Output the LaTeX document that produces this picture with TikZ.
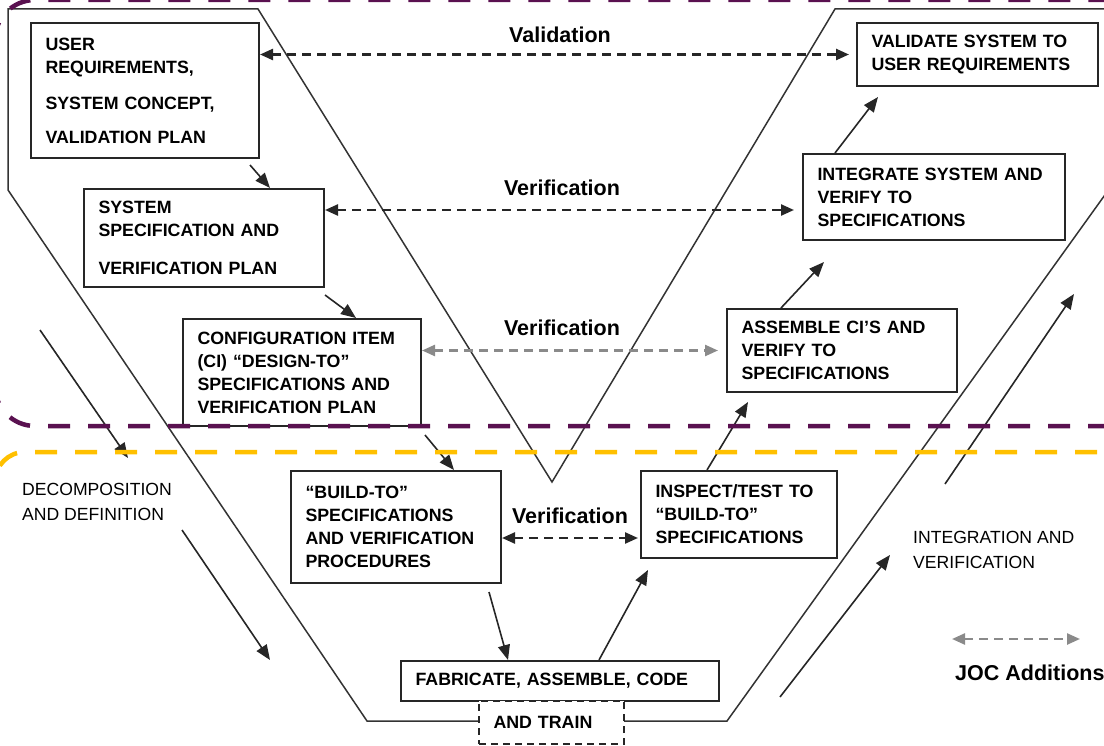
\documentclass[tikz,border=0pt]{standalone}
\usepackage{fontspec}
\setmainfont{Liberation Sans}
\usetikzlibrary{arrows.meta}
\definecolor{vpurple}{HTML}{5A1150}
\definecolor{vyellow}{HTML}{FFC000}
\definecolor{vgray}{HTML}{8A8A8A}
\begin{document}
\begin{tikzpicture}[x=1pt,y=-1pt,
  box/.style={draw=black!85,line width=2pt,fill=white,anchor=north west,inner xsep=14.5pt,inner ysep=0pt,align=left,font=\fontsize{17.8}{23}\selectfont\bfseries},
  flow/.style={-{Triangle[length=15pt,width=12pt]},line width=1.6pt,black!85},
  joc/.style={{Triangle[length=13pt,width=11pt]}-{Triangle[length=13pt,width=11pt]},line width=2.4pt,dash pattern=on 9pt off 6pt,black!85},
  lbl/.style={font=\fontsize{21.5}{26}\selectfont\bfseries},
  side/.style={anchor=west,inner sep=0pt,align=left,font=\fontsize{17.6}{24.5}\selectfont}]
\pgfmathsetmacro{\kp}{426}
\pgfmathsetmacro{\ky}{452}
\useasboundingbox (0,0) rectangle (1104,746);
\clip (0,0) rectangle (1104,746);
%vee
\draw[line width=1.5pt,black!80] (1130,9) -- (835,9) -- (552,482) -- (258,9) -- (8,9) -- (8,190) -- (367,721) -- (727,721) -- (1130,160);
%left boxes
\node[box,minimum width=228pt,minimum height=135pt,text width=199pt] (user) at (30,22) {USER\\REQUIREMENTS,\\[13pt]SYSTEM CONCEPT,\\[11pt]VALIDATION PLAN};
\node[box,minimum width=240pt,minimum height=98pt,text width=211pt] (sys) at (83,188) {SYSTEM\\SPECIFICATION AND\\[15pt]VERIFICATION PLAN};
\node[box,minimum width=238pt,minimum height=107pt,text width=209pt] (ci) at (182,318) {CONFIGURATION ITEM\\(CI) ``DESIGN-TO''\\SPECIFICATIONS AND\\VERIFICATION PLAN};
\node[box,minimum width=210pt,minimum height=112pt,text width=181pt] (build) at (290,470) {``BUILD-TO''\\SPECIFICATIONS\\AND VERIFICATION\\PROCEDURES};
%bottom
\node[box,minimum width=318pt,minimum height=40pt,text width=289pt] (fab) at (400,660) {FABRICATE, ASSEMBLE, CODE};
\node[box,dash pattern=on 7pt off 5pt,minimum width=145pt,minimum height=43pt,text width=116pt] (train) at (478,700) {AND TRAIN};
%right boxes
\node[box,minimum width=196pt,minimum height=87pt,text width=167pt] (inspect) at (640,470) {INSPECT/TEST TO\\``BUILD-TO''\\SPECIFICATIONS};
\node[box,minimum width=230pt,minimum height=83pt,text width=201pt] (assem) at (726,308) {ASSEMBLE CI'S AND\\VERIFY TO\\SPECIFICATIONS};
\node[box,minimum width=262pt,minimum height=86pt,text width=233pt] (integ) at (802,153) {INTEGRATE SYSTEM AND\\VERIFY TO\\SPECIFICATIONS};
\node[box,minimum width=241pt,minimum height=63pt,text width=212pt] (valid) at (856,22) {VALIDATE SYSTEM TO\\USER REQUIREMENTS};
%flow arrows
\draw[flow] ([xshift=-10pt,yshift=-6pt]user.south east) -- ([xshift=-55pt]sys.north east);
\draw[flow] ([yshift=-7pt]sys.south east) -- ([xshift=-66pt]ci.north east);
\draw[flow] ([xshift=3pt,yshift=-8pt]ci.south east) -- ([xshift=-48pt]build.north east);
\draw[flow] ([xshift=-13pt,yshift=-8pt]build.south east) -- ([xshift=108pt]fab.north west);
\draw[flow] ([xshift=39pt]fab.north) -- ([xshift=8pt,yshift=-11pt]inspect.south west);
\draw[flow] ([xshift=67pt]inspect.north west) -- ([xshift=22pt,yshift=-9pt]assem.south west);
\draw[flow] ([xshift=55pt]assem.north west) -- ([xshift=22pt,yshift=-21pt]integ.south west);
\draw[flow] ([xshift=33pt]integ.north west) -- ([xshift=22pt,yshift=-10pt]valid.south west);
%joc arrows
\draw[joc,shorten >=7pt] (user.east |- valid.west) -- (valid.west);
\draw[joc,shorten >=8pt] (sys.east |- 0,210) -- (integ.west |- 0,210);
\draw[joc,vgray,shorten >=8pt] (ci.east |- assem.west) -- (assem.west);
\draw[joc,shorten >=2pt] (build.east |- 0,538) -- (inspect.west |- 0,538);
\node[lbl] (valtxt) at (560,35) {Validation};
\node[lbl] (ver1) at (562,188) {Verification};
\node[lbl] (ver2) at (562,328) {Verification};
\node[lbl] (ver3) at (570,516) {Verification};
%side arrows
\node[side] (decomp) at (22,502) {DECOMPOSITION\\AND DEFINITION};
\node[side] (integr) at (913,550) {INTEGRATION AND\\VERIFICATION};
\coordinate (decA) at (40,330);
\coordinate (decB) at (128,458);
\coordinate (decC) at (182,530);
\coordinate (decD) at (270,660);
\coordinate (intA) at (780,697);
\coordinate (intB) at (890,555);
\coordinate (intC) at (945,484);
\coordinate (intD) at (1074,294);
\draw[flow] (decA) -- (decB);
\draw[flow] (decC) -- (decD);
\draw[flow] (intA) -- (intB);
\draw[flow] (intC) -- (intD);
%legend
\coordinate (legL) at (952,639);
\coordinate (legR) at (1080,639);
\draw[joc,vgray] (legL) -- (legR);
\node[anchor=west,inner sep=0pt,lbl] (legtxt) at (955,673) {JOC Additions};
%regions
\draw[vpurple,line width=4.5pt,dash pattern=on 22pt off 18pt,rounded corners=40pt] (1110,\kp) -- (-5,\kp) -- (-5,0) -- (1110,0);
\draw[vyellow,line width=4.5pt,dash pattern=on 22pt off 18pt,rounded corners=30pt] (1097,\ky) -- (-5,\ky) -- (-5,800);
\end{tikzpicture}
\end{document}
